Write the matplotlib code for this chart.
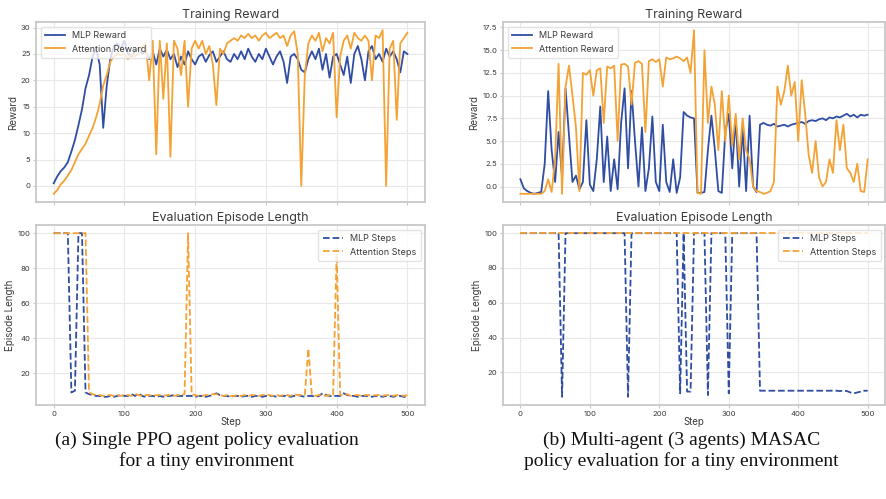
import matplotlib
matplotlib.use("Agg")
import matplotlib.pyplot as plt

plt.rcParams['font.family'] = ['Inter', 'DejaVu Sans']

steps = list(range(0, 501, 5))

# (a) single PPO agent
a_mlp_reward = [
    0.5, 1.8, 2.8, 3.5, 4.5, 6.5, 8.7, 11.5, 14.5, 18.5,
    21, 24.5, 26, 23, 11, 19, 24, 26.5, 27, 26,
    27.5, 25, 24.5, 25.5, 26, 25, 25.5, 24, 25.5, 23,
    26, 24.5, 25.8, 24, 25, 22.5, 24.5, 23, 25.5, 24,
    23, 24.5, 25, 23.5, 24.8, 25.5, 23.5, 24.5, 25.5, 24,
    23.5, 25, 24, 25.5, 24, 26, 24.5, 23.5, 25, 24,
    26, 24.5, 23, 24.5, 25.5, 23.5, 19.5, 24.5, 25, 24,
    22, 21.5, 24, 25.5, 24, 26, 22, 25, 20.5, 24.5,
    25, 23, 21, 24.5, 19.5, 25, 26.5, 24, 20, 25.5,
    26.5, 24, 25, 23.5, 26, 24.5, 25.5, 24, 21.5, 25.5,
    25,
]
a_att_reward = [
    -1.5, -0.8, 0.3, 1, 2, 3, 4.5, 6, 7, 8,
    9.5, 11, 13, 15.5, 19, 21, 23.5, 24.5, 25, 24.8,
    25, 24, 25, 24.5, 25, 26.5, 27, 20, 27.5, 6,
    27.5, 16.5, 27, 5.5, 27.5, 26, 21, 27.5, 15, 26,
    27.5, 26, 27.5, 25, 26.5, 23, 15.3, 26, 25, 27,
    27.5, 28, 27.5, 28.5, 28, 28.8, 28, 28.5, 27.5, 28.5,
    29, 28, 28.5, 29, 28, 28.5, 26.5, 28.5, 29.3, 25,
    0, 21, 27, 28.5, 27.5, 29, 25.5, 28, 27, 29,
    13, 24.5, 27.5, 28.5, 26, 29, 28, 27.5, 28.5, 27.5,
    20, 28.5, 28, 29.5, 0, 26, 27.5, 12.5, 27, 28,
    29,
]
a_mlp_steps = [
    100, 100, 100, 100, 100, 9, 10, 100, 100, 9,
    8, 7.5, 7, 7, 6.5, 6.5, 7, 6.5, 7, 7.5,
    7, 7, 8, 7, 8.5, 7, 6.5, 7, 7, 6.5,
    7, 6.5, 7, 7, 7.5, 7, 7, 7, 7, 7,
    6.5, 7, 7, 6.5, 7, 7.5, 8.5, 7.5, 7, 7,
    6.5, 7, 7, 6.5, 7, 7, 6.5, 7, 7, 6.5,
    7, 7, 7, 6.5, 7, 7, 7, 6.5, 7, 7.5,
    7, 6.5, 7, 7, 6.5, 7, 8.5, 7.5, 7, 7,
    7, 7, 8.5, 7.5, 7, 7, 6.5, 7, 7, 7,
    6.5, 7, 7, 6.5, 7, 7, 6.5, 7, 7, 6.5,
    6.5,
]
a_att_steps = [
    100, 100, 100, 100, 100, 100, 100, 100, 100, 100,
    9, 8, 7.5, 7.5, 7, 7.5, 7.5, 7, 7.5, 7,
    7.5, 7.5, 7, 8, 7.5, 7, 7.5, 7.5, 7, 7.5,
    7.5, 7, 7.5, 7.5, 7, 7.5, 7.5, 8, 100, 8,
    7.5, 7, 7, 7.5, 7.5, 8, 8, 7.5, 7, 7.5,
    7, 7, 7.5, 7, 7.5, 7, 7.5, 7.5, 7, 7.5,
    8, 7.5, 7, 7.5, 7, 7.5, 7.5, 7, 8, 7.5,
    7.5, 7.5, 34, 7.5, 7, 7.5, 7.5, 7, 7.5, 7.5,
    88, 7.5, 7.5, 8, 7, 7.5, 7.5, 7, 7.5, 7.5,
    7, 7.5, 7.5, 7, 7.5, 7.5, 7, 7.5, 7.5, 7,
    7.5,
]

# (b) multi-agent MASAC
b_mlp_reward = [
    0.8, -0.2, -0.5, -0.7, -0.8, -0.7, -0.6, 2.5, 10.5, 4,
    0.5, 6, 1, 10.8, 5.6, 0.5, 1.2, -0.3, 0.5, 7.3,
    0.2, -0.5, 3, 8.8, 0.5, 5.5, -0.5, 3, -0.3, 7,
    10.8, 2, 10.5, 5, 0, 6.5, -0.5, 2, 7.7, 0.5,
    -0.5, 6.8, 0.5, -0.6, 3, -0.7, 1, 8.2, 7.8, 7.6,
    7.5, -0.7, -0.7, -0.6, 4, 7.8, 4, -0.5, -0.7, 6,
    8, 2, 7.5, 0, 6.5, -0.5, 7.8, 0, -0.6, 6.8,
    7.0, 6.8, 6.7, 6.9, 6.6, 6.7, 6.8, 6.6, 6.8, 6.9,
    7.0, 7.1, 6.9, 7.2, 7.3, 7.2, 7.4, 7.5, 7.3, 7.6,
    7.5, 7.7, 7.6, 7.8, 8.0, 7.7, 7.9, 7.6, 7.9, 7.8,
    7.9,
]
b_att_reward = [
    -0.8, -0.8, -0.8, -0.8, -0.8, -0.8, -0.8, -0.5, 0.8, -0.6,
    3, 13.5, -0.8, 11, 13.3, 10, 6.5, -0.5, 12.5, 12.3,
    12.8, 10, 12.8, 13, 7, 13.2, 13, 13.3, 5, 13.4,
    13.5, 13.2, 9, 13.6, 13.8, 13.5, 6, 13.8, 14, 13.7,
    14, 11, 14.2, 14, 14.1, 14.3, 14.1, 13.8, 14.2, 12.5,
    17.2, -0.7, -0.8, 15, 7, 11, 9, 4, 10.5, 5,
    10, 4.5, 8, 3, 7.5, 4, 3, 0, -0.5, -0.6,
    -0.8, -0.7, -0.5, 0.5, 11, 9, 10.5, 13.3, 10, 11.5,
    5, 11.7, 8, 3.5, 1.5, 5, 1, 0, 0.5, 3,
    1.5, 7.3, 4, 6.8, 2, 1.5, 0.5, 2.5, -0.5, -0.6,
    3,
]
b_mlp_steps = [
    100, 100, 100, 100, 100, 100, 100, 100, 100, 100,
    100, 100, 6, 100, 100, 100, 100, 100, 100, 100,
    100, 100, 100, 100, 100, 100, 100, 100, 100, 100,
    100, 6, 100, 100, 100, 100, 100, 100, 100, 100,
    100, 100, 100, 100, 100, 100, 8, 100, 9, 9,
    100, 100, 100, 100, 7, 100, 100, 100, 100, 100,
    8, 100, 100, 100, 100, 100, 100, 100, 100, 9.5,
    9.5, 9.5, 9.5, 9.5, 9.5, 9.5, 9.5, 9.5, 9.5, 9.5,
    9.5, 9.5, 9.5, 9.5, 9.5, 9.5, 9.5, 9.5, 9.5, 9.5,
    9.5, 9.5, 9.3, 9.5, 9.3, 8.5, 8, 8.5, 9, 9.5,
    9.5,
]
b_att_steps = [
    100, 100, 100, 100, 100, 100, 100, 100, 100, 100,
    100, 100, 100, 100, 100, 100, 100, 100, 100, 100,
    100, 100, 100, 100, 100, 100, 100, 100, 100, 100,
    100, 100, 100, 100, 100, 100, 100, 100, 100, 100,
    100, 100, 100, 100, 100, 100, 100, 100, 100, 100,
    100, 100, 100, 100, 100, 100, 100, 100, 100, 100,
    100, 100, 100, 100, 100, 100, 100, 100, 100, 100,
    100, 100, 100, 100, 100, 100, 100, 100, 100, 100,
    100, 100, 100, 100, 100, 100, 100, 100, 100, 100,
    100, 100, 100, 100, 100, 100, 100, 100, 100, 100,
    100,
]

a_reward_ticks = [0, 5, 10, 15, 20, 25, 30]
b_reward_ticks = [0.0, 2.5, 5.0, 7.5, 10.0, 12.5, 15.0, 17.5]
steps_ticks = [20, 40, 60, 80, 100]
x_ticks = [0, 100, 200, 300, 400, 500]

captions = [
    "(a) Single PPO agent policy evaluation\nfor a tiny environment",
    "(b) Multi-agent (3 agents) MASAC\npolicy evaluation for a tiny environment",
]

BLUE = "#2f4da3"
ORANGE = "#f4a234"
TXT = "#3a3a3a"


def style(ax):
    ax.set_facecolor("white")
    ax.grid(True, color="#e8e8e8", lw=0.8)
    ax.set_axisbelow(True)
    for s in ax.spines.values():
        s.set_color("#c8c8c8")
        s.set_linewidth(1.3)
    ax.tick_params(labelsize=5.5, colors="#c8c8c8", labelcolor=TXT,
                   length=2.5, width=0.8, pad=1.5)
    ax.set_xlim(-25, 525)
    ax.set_xticks(x_ticks)


def panel(left, width, mlp_r, att_r, mlp_s, att_s, rticks, fmt):
    ax1 = fig.add_axes([left, 0.5952, width, 0.3607])
    ax2 = fig.add_axes([left, 0.1884, width, 0.3607])

    style(ax1)
    ax1.plot(steps, mlp_r, color=BLUE, lw=1.3, label="MLP Reward")
    ax1.plot(steps, att_r, color=ORANGE, lw=1.3, label="Attention Reward")
    ax1.set_yticks(rticks)
    ax1.set_yticklabels([fmt.format(t) for t in rticks])
    ax1.set_xticklabels([])
    ax1.set_title("Training Reward", fontsize=9, color=TXT, pad=3)
    ax1.set_ylabel("Reward", fontsize=7, color=TXT, labelpad=2)
    ax1.legend(loc="upper left", fontsize=6.5, framealpha=0.8, edgecolor="#dddddd",
               labelcolor=TXT, borderpad=0.5, handlelength=2.2)

    style(ax2)
    ax2.plot(steps, mlp_s, color=BLUE, lw=1.3, ls="--", label="MLP Steps")
    ax2.plot(steps, att_s, color=ORANGE, lw=1.3, ls="--", label="Attention Steps")
    ax2.set_yticks(steps_ticks)
    ax2.set_title("Evaluation Episode Length", fontsize=9, color=TXT, pad=3)
    ax2.set_ylabel("Episode Length", fontsize=7, color=TXT, labelpad=2)
    ax2.set_xlabel("Step", fontsize=7, color=TXT, labelpad=0)
    ax2.legend(loc="upper right", fontsize=6.5, framealpha=0.8, edgecolor="#dddddd",
               labelcolor=TXT, borderpad=0.5, handlelength=2.2)


fig = plt.figure(figsize=(8.87, 4.99), dpi=100)

panel(0.0406, 0.4386, a_mlp_reward, a_att_reward, a_mlp_steps, a_att_steps,
      a_reward_ticks, "{:d}")
panel(0.5671, 0.4307, b_mlp_reward, b_att_reward, b_mlp_steps, b_att_steps,
      b_reward_ticks, "{:.1f}")

fig.text(0.233, 0.096, captions[0], ha="center", va="center", fontsize=14,
         family="Liberation Serif", linespacing=1.2, color="#111111")
fig.text(0.768, 0.096, captions[1], ha="center", va="center", fontsize=14,
         family="Liberation Serif", linespacing=1.2, color="#111111")

fig.savefig("out.png", dpi=100, facecolor="white")
